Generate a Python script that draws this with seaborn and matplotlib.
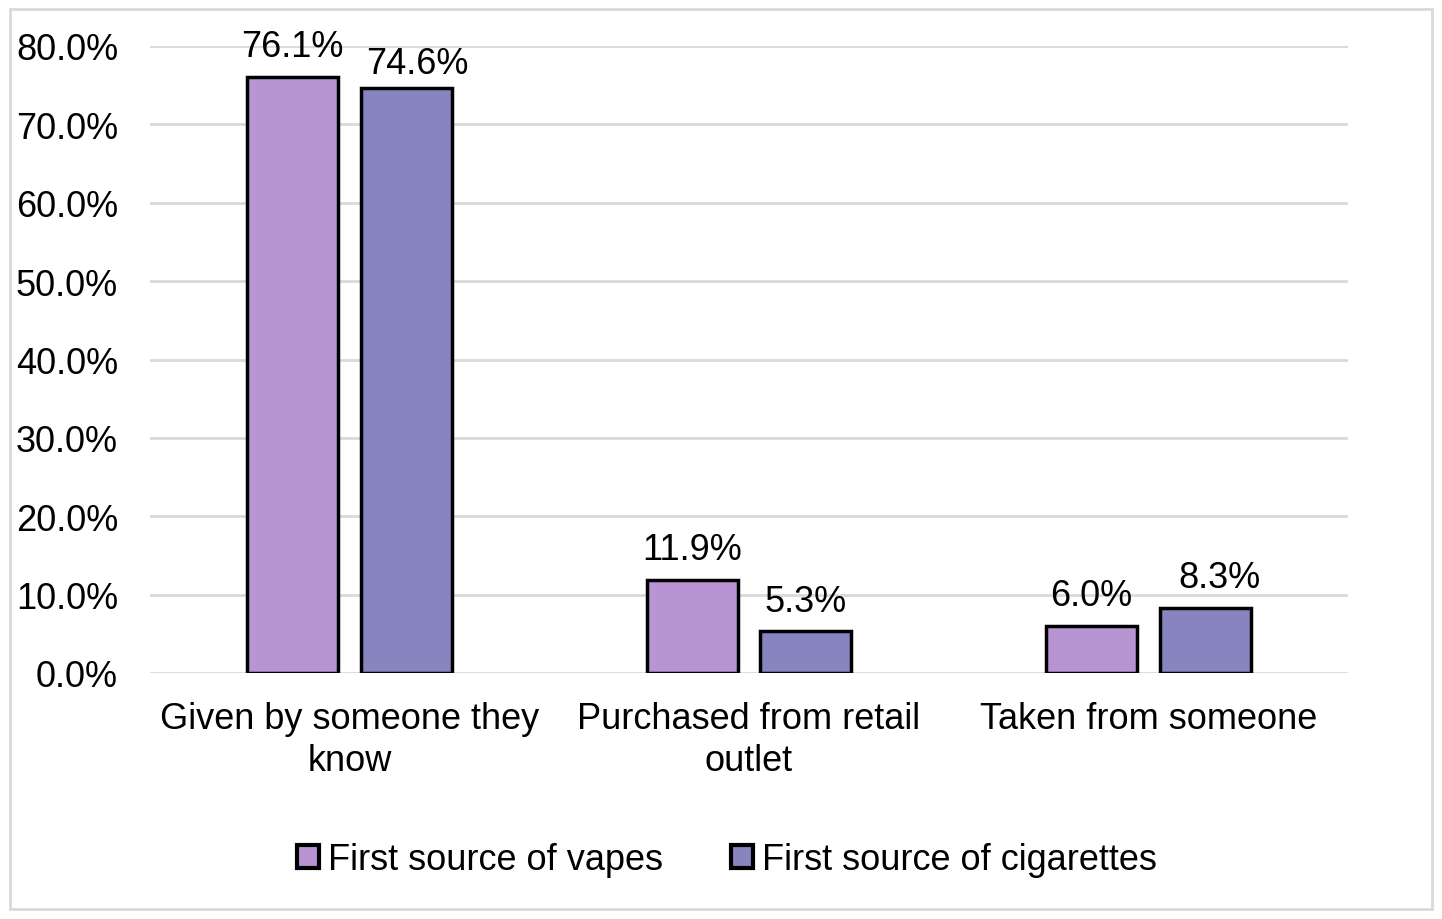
import numpy as np
import pandas as pd
import matplotlib.pyplot as plt
import seaborn as sns
from matplotlib.patches import Rectangle
from matplotlib.ticker import FuncFormatter

categories = ['Given by someone they\nknow', 'Purchased from retail\noutlet', 'Taken from someone']
series = ['First source of vapes', 'First source of cigarettes']
vapes = [76.1, 11.9, 6.0]
cigarettes = [74.6, 5.3, 8.3]
colors = ['#B994D2', '#8884BF']

df = pd.DataFrame({
    'source': categories * 2,
    'series': [series[0]] * 3 + [series[1]] * 3,
    'value': vapes + cigarettes,
})

sns.set_theme(style='white')
plt.rcParams['font.family'] = ['Liberation Sans', 'DejaVu Sans']
plt.rcParams['text.color'] = 'black'

fs = 26

fig = plt.figure(figsize=(14.42, 9.2), dpi=100)
ax = fig.add_axes([150/1442, 1 - 674/920, 1198/1442, 627/920])

sns.barplot(data=df, x='source', y='value', hue='series', palette=colors,
            width=0.57, gap=0.2, edgecolor='black', linewidth=2.5,
            saturation=1, ax=ax, legend=True)

ax.set_ylim(0, 80)
ax.set_xlim(-0.5, 2.5)
ax.set_yticks(np.arange(0, 81, 10))
ax.yaxis.set_major_formatter(FuncFormatter(lambda v, p: f'{v:.1f}%'))
ax.yaxis.grid(True, color='#D9D9D9', linewidth=2)
ax.set_axisbelow(True)
for s in ax.spines.values():
    s.set_visible(False)
ax.tick_params(axis='both', length=0, labelsize=fs, colors='black')
ax.tick_params(axis='y', pad=23)
ax.tick_params(axis='x', pad=20)
for lab in ax.get_xticklabels():
    lab.set_linespacing(1.25)
ax.set_xlabel('')
ax.set_ylabel('')

# excel nudges a couple of labels sideways to avoid overlaps
nudges = {(1, 0): (8, -4), (1, 2): (10, 0)}
for i, cont in enumerate(ax.containers):
    anns = ax.bar_label(cont, fmt='%.1f%%', fontsize=fs, padding=9, color='black')
    for j, a in enumerate(anns):
        if (i, j) in nudges:
            dx, dy = nudges[(i, j)]
            x0, y0 = a.xyann
            a.xyann = (x0 + dx, y0 + dy)

leg = ax.legend(loc='center', bbox_to_anchor=(727/1442, 1 - 861/920),
                bbox_transform=fig.transFigure, ncol=2, frameon=False,
                fontsize=fs, handlelength=0.6, handleheight=0.6,
                handletextpad=0.25, columnspacing=1.9)
for t in leg.get_texts():
    t.set_color('black')
for h in leg.legend_handles:
    h.set_linewidth(3)

fig.patches.append(Rectangle((10/1442, 10/920), 1422/1442, 900/920,
                             transform=fig.transFigure, fill=False,
                             edgecolor='#D9D9D9', linewidth=2))

fig.savefig('out.png', dpi=100)
